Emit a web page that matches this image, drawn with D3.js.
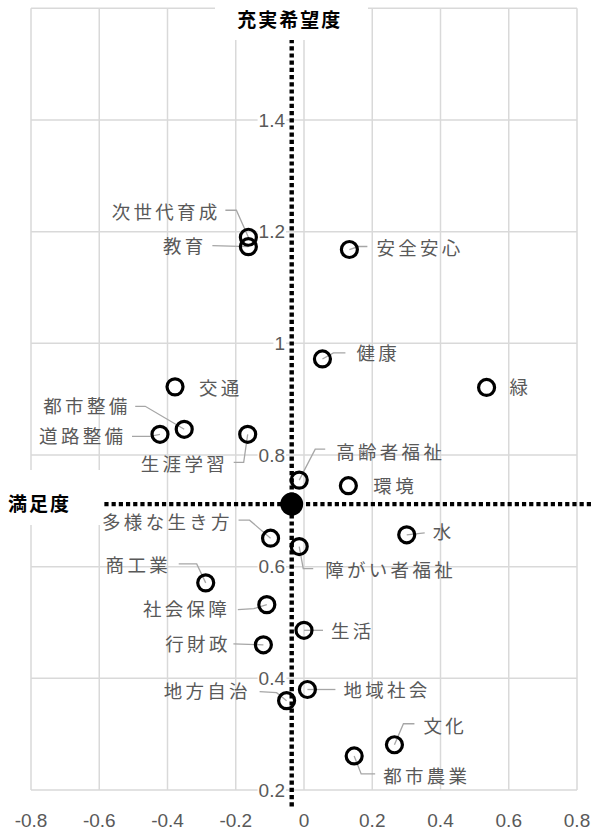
<!DOCTYPE html>
<html>
<head>
<meta charset="utf-8">
<script src="https://cdn.jsdelivr.net/npm/d3@7"></script>
<style>
body { margin: 0; background: #fff; }
svg { display: block; }
</style>
</head>
<body>
<script>
var names = ['次世代育成', '教育', '安全安心', '健康', '緑', '交通', '都市整備', '道路整備',
    '生涯学習', '高齢者福祉', '環境', '水', '多様な生き方', '障がい者福祉', '商工業',
    '社会保障', '生活', '行財政', '地域社会', '地方自治', '文化', '都市農業'];
var satisfaction = [-0.163, -0.163, 0.133, 0.054, 0.535, -0.378, -0.351, -0.422,
    -0.165, -0.014, 0.130, 0.301, -0.098, -0.014, -0.288,
    -0.109, 0.000, -0.119, 0.010, -0.051, 0.265, 0.147];
var desire = [1.190, 1.173, 1.168, 0.972, 0.921, 0.922, 0.846, 0.837,
    0.837, 0.755, 0.745, 0.657, 0.651, 0.636, 0.571,
    0.532, 0.486, 0.460, 0.380, 0.360, 0.281, 0.261];
var average = [-0.036, 0.712];
var xTicks = [-0.8, -0.6, -0.4, -0.2, 0, 0.2, 0.4, 0.6, 0.8];
var yTicks = [0.2, 0.4, 0.6, 0.8, 1, 1.2, 1.4];
var xTitle = '満足度',
    yTitle = '充実希望度';

// where each label sits relative to its point (px) and its leader line
var labelPos = {
    '次世代育成': {dx: -31, dy: -25, a: 'end', lead: [[-23, -27], [-12, -27], [0, 0]]},
    '教育': {dx: -45, dy: 0, a: 'end', lead: [[-36, -1], [0, 0]]},
    '安全安心': {dx: 27, dy: -1, a: 'start', lead: [[18, -3], [9, -3], [0, 0]]},
    '健康': {dx: 34, dy: -6, a: 'start', lead: [[23, -6], [11, -6], [0, 0]]},
    '緑': {dx: 23, dy: 0, a: 'start'},
    '交通': {dx: 24, dy: 1, a: 'start'},
    '都市整備': {dx: -57, dy: -23, a: 'end', lead: [[-49, -23], [-39, -23], [0, 0]]},
    '道路整備': {dx: -37, dy: 2, a: 'end', lead: [[-28, 2], [-10, 2], [0, 0]]},
    '生涯学習': {dx: -23, dy: 30, a: 'end', lead: [[-14, 28], [-4, 28], [0, 0]]},
    '高齢者福祉': {dx: 37, dy: -28, a: 'start', lead: [[26, -31], [16, -31], [0, 0]]},
    '環境': {dx: 25, dy: 1, a: 'start'},
    '水': {dx: 26, dy: -2, a: 'start', lead: [[18, -2], [0, 0]]},
    '多様な生き方': {dx: -41, dy: -16, a: 'end', lead: [[-32, -18], [-21, -18], [0, 0]]},
    '障がい者福祉': {dx: 26, dy: 24, a: 'start', lead: [[14, 22], [4, 22], [0, 0]]},
    '商工業': {dx: -38, dy: -18, a: 'end', lead: [[-27, -19], [-9, -19], [0, 0]]},
    '社会保障': {dx: -40, dy: 5, a: 'end', lead: [[-29, 5], [-13, 4], [0, 0]]},
    '生活': {dx: 27, dy: 1, a: 'start', lead: [[19, 0], [0, 0]]},
    '行財政': {dx: -36, dy: 0, a: 'end', lead: [[-30, -1], [0, 0]]},
    '地域社会': {dx: 36, dy: 1, a: 'start', lead: [[28, 0], [0, 0]]},
    '地方自治': {dx: -39, dy: -9, a: 'end', lead: [[-27, -9], [-10, -8], [0, 0]]},
    '文化': {dx: 29, dy: -18, a: 'start', lead: [[20, -21], [9, -21], [0, 0]]},
    '都市農業': {dx: 29, dy: 20, a: 'start', lead: [[21, 18], [7, 18], [0, 0]]}
};

var width = 592, height = 834,
    grid = '#d9d9d9', textGray = '#595959',
    jp = '"Noto Sans CJK JP", "Noto Sans", sans-serif',
    num = '"Liberation Sans", Arial, sans-serif',
    ls = 3.3;

var x = d3.scaleLinear().domain([-0.8, 0.8]).range([31, 577]);
var y = d3.scaleLinear().domain([0.2, 1.6]).range([790, 8.3]);

var svg = d3.select('body').append('svg')
    .attr('width', width)
    .attr('height', height);

var points = names.map(function(n, i){
    return {name: n, s: satisfaction[i], v: desire[i]};
});

/* gridlines, including the frame at both ends */
svg.append('g').selectAll('line')
    .data(xTicks)
    .enter().append('line')
    .attr('x1', x).attr('x2', x)
    .attr('y1', y(1.6)).attr('y2', y(0.2))
    .attr('stroke', grid).attr('stroke-width', 1.5);

svg.append('g').selectAll('line')
    .data(yTicks.concat([1.6]))
    .enter().append('line')
    .attr('x1', x(-0.8)).attr('x2', x(0.8))
    .attr('y1', y).attr('y2', y)
    .attr('stroke', grid).attr('stroke-width', 1.5);

/* x tick labels along the bottom */
svg.append('g').selectAll('text')
    .data(xTicks)
    .enter().append('text')
    .attr('x', x)
    .attr('y', 827)
    .attr('text-anchor', 'middle')
    .style('font-family', num)
    .style('font-size', '19px')
    .style('fill', textGray)
    .text(function(d){ return String(d); });

/* y tick labels sit on the x=0 line, with a white patch behind */
var yLab = svg.append('g').selectAll('g')
    .data(yTicks)
    .enter().append('g');

yLab.append('text')
    .attr('x', x(0) - 19)
    .attr('y', y)
    .attr('dy', '0.35em')
    .attr('text-anchor', 'end')
    .style('font-family', num)
    .style('font-size', '19px')
    .style('fill', textGray)
    .text(function(d){ return d; });

yLab.each(function(){
    var g = d3.select(this),
        b = g.select('text').node().getBBox();
    g.insert('rect', 'text')
        .attr('x', b.x - 1).attr('y', b.y + 2)
        .attr('width', b.width + 2).attr('height', b.height - 4)
        .attr('fill', '#fff');
});

/* leader lines */
var line = d3.line();
svg.append('g').selectAll('path')
    .data(points.filter(function(d){ return labelPos[d.name].lead; }))
    .enter().append('path')
    .attr('d', function(d){
        var cx = x(d.s), cy = y(d.v);
        return line(labelPos[d.name].lead.map(function(q){
            return [cx + q[0], cy + q[1]];
        }));
    })
    .attr('fill', 'none')
    .attr('stroke', '#a6a6a6')
    .attr('stroke-width', 1.3);

/* the open circles */
svg.append('g').selectAll('circle')
    .data(points)
    .enter().append('circle')
    .attr('cx', function(d){ return x(d.s); })
    .attr('cy', function(d){ return y(d.v); })
    .attr('r', 8)
    .attr('fill', 'none')
    .attr('stroke', '#000')
    .attr('stroke-width', 3.2);

/* average lines */
svg.append('line')
    .attr('x1', x(average[0])).attr('x2', x(average[0]))
    .attr('y1', y(1.545)).attr('y2', y(0.17))
    .attr('stroke', '#000').attr('stroke-width', 4.4)
    .attr('stroke-dasharray', '4.2,3');

svg.append('line')
    .attr('x1', x(-0.585)).attr('x2', width)
    .attr('y1', y(average[1])).attr('y2', y(average[1]))
    .attr('stroke', '#000').attr('stroke-width', 4.4)
    .attr('stroke-dasharray', '4.2,3');

svg.append('circle')
    .attr('cx', x(average[0]))
    .attr('cy', y(average[1]))
    .attr('r', 11.5)
    .attr('fill', '#000');

/* point labels */
svg.append('g').selectAll('text')
    .data(points)
    .enter().append('text')
    .attr('x', function(d){
        var p = labelPos[d.name];
        return x(d.s) + p.dx + (p.a === 'end' ? ls : 0);
    })
    .attr('y', function(d){ return y(d.v) + labelPos[d.name].dy; })
    .attr('dy', '0.36em')
    .attr('text-anchor', function(d){ return labelPos[d.name].a; })
    .style('font-family', jp)
    .style('font-size', '18.5px')
    .style('letter-spacing', ls + 'px')
    .style('fill', textGray)
    .text(function(d){ return d.name; });

/* axis titles on white boxes */
svg.append('rect')
    .attr('x', 215).attr('y', 0)
    .attr('width', 153).attr('height', 40)
    .attr('fill', '#fff');
svg.append('text')
    .attr('x', x(average[0]) - 2)
    .attr('y', 20)
    .attr('dy', '0.36em')
    .attr('text-anchor', 'middle')
    .style('font-family', jp)
    .style('font-size', '19px')
    .style('font-weight', 'bold')
    .style('letter-spacing', '2px')
    .style('fill', '#000')
    .text(yTitle);

svg.append('rect')
    .attr('x', 0).attr('y', 470)
    .attr('width', 101).attr('height', 55)
    .attr('fill', '#fff');
svg.append('text')
    .attr('x', 8)
    .attr('y', y(average[1]))
    .attr('dy', '0.36em')
    .style('font-family', jp)
    .style('font-size', '19px')
    .style('font-weight', 'bold')
    .style('letter-spacing', '2px')
    .style('fill', '#000')
    .text(xTitle);
</script>
</body>
</html>
